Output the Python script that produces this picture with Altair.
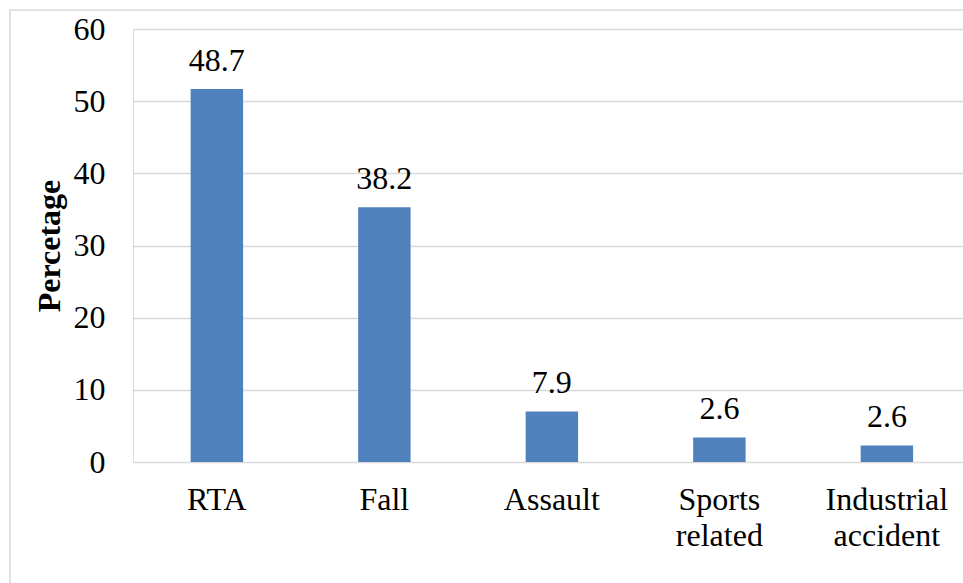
import altair as alt
import pandas as pd

categories = ["RTA", "Fall", "Assault", "Sports related", "Industrial accident"]
bar_heights = [51.7, 35.3, 7.0, 3.4, 2.3]
bar_labels = ["48.7", "38.2", "7.9", "2.6", "2.6"]
y_ticks = [0, 10, 20, 30, 40, 50, 60]

df = pd.DataFrame({"cat": categories, "val": bar_heights, "lab": bar_labels})

FONT = "'Times New Roman', 'Liberation Serif', serif"
GRID = "#d9d9d9"
FS = 32

x_enc = alt.X(
    "cat:N",
    sort=categories,
    scale=alt.Scale(paddingInner=0.687, paddingOuter=0.321, align=0.536),
    axis=alt.Axis(
        title=None, labelAngle=0, domain=False, ticks=False,
        labelPadding=22, labelFont=FONT, labelFontSize=FS, labelColor="black",
        labelExpr="split(datum.label, ' ')", labelLineHeight=36,
        labelBaseline="top",
    ),
)

y_enc = alt.Y(
    "val:Q",
    scale=alt.Scale(domain=[0, 60], nice=False),
    axis=alt.Axis(
        values=y_ticks, title="Percetage", grid=True, gridColor=GRID, gridWidth=1.5,
        domain=False, ticks=False, labelPadding=28, labelFont=FONT, labelFontSize=FS,
        labelColor="black", titleFont=FONT, titleFontSize=FS, titleFontWeight="bold",
        titleColor="black", titleX=-84, titleY=216.5, titleAngle=-90,
        titleAlign="center", titleBaseline="middle",
    ),
)

bars = alt.Chart(df).mark_bar(color="#4f81bd").encode(x=x_enc, y=y_enc)

labels = alt.Chart(df).mark_text(
    font=FONT, fontSize=FS, color="black", baseline="alphabetic", dy=-18
).encode(x=alt.X("cat:N", sort=categories), y=alt.Y("val:Q"), text="lab:N")

frame = alt.Chart(df).mark_rect(
    fill=None, stroke=GRID, strokeWidth=1.5, clip=False
).encode(
    x=alt.value(-123), x2=alt.value(900), y=alt.value(-19), y2=alt.value(600)
).transform_filter(alt.datum.cat == "RTA")

chart = alt.layer(frame, bars, labels).properties(
    width=830, height=433,
    autosize=alt.AutoSizeParams(type="none"),
    padding={"left": 133, "top": 29, "right": 0, "bottom": 121},
).configure_view(strokeWidth=0).configure(background="white")

chart.save("out.html", embed_options={"renderer": "svg", "actions": False})
